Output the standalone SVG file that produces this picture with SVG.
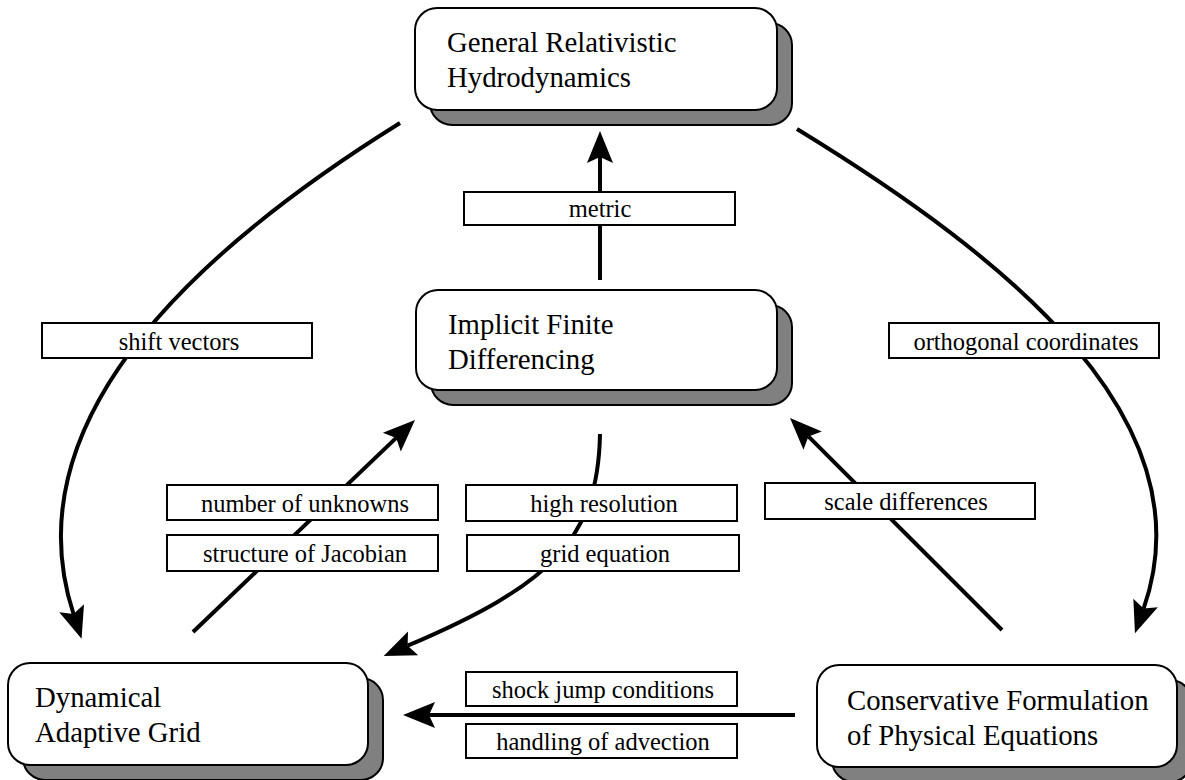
<svg xmlns="http://www.w3.org/2000/svg" width="1185" height="780" viewBox="0 0 1185 780">
<style>
.shadow{fill:#808080;stroke:#000;stroke-width:2}
.node{fill:#fff;stroke:#000;stroke-width:2}
.nt{font-family:"Liberation Serif","Times New Roman",serif;font-size:28.8px;fill:#000}
.lb{fill:#fff;stroke:#000;stroke-width:2}
.lt{font-family:"Liberation Serif","Times New Roman",serif;font-size:24.5px;fill:#000;text-anchor:middle}
.c{fill:none;stroke:#000;stroke-width:4}
</style>
<defs>
<marker id="ah" markerUnits="userSpaceOnUse" markerWidth="40" markerHeight="30" refX="6" refY="13" orient="auto" overflow="visible">
<path d="M0,0 L32,13 L0,26 L6,13 Z" fill="#000"/>
</marker>
</defs>
<rect width="1185" height="780" fill="#fff"/>
<g id="connectors">
<path class="c" d="M600,280 L600,157" marker-end="url(#ah)"/>
<path class="c" d="M400,123 C187.5,255.5 11.5,424 73.5,614" marker-end="url(#ah)"/>
<path class="c" d="M797,129 C1009.5,259 1209.6,420.6 1143.6,608.6" marker-end="url(#ah)"/>
<path class="c" d="M193,632 L396.2,437.9" marker-end="url(#ah)"/>
<path class="c" d="M600,434 C598,540 550,585 407.6,645.7" marker-end="url(#ah)"/>
<path class="c" d="M1002,630 L808.4,436.4" marker-end="url(#ah)"/>
<path class="c" d="M795,715 L429,715" marker-end="url(#ah)"/>
</g>
<g id="node-grh">
<rect class="shadow" x="430" y="23" width="362" height="102" rx="22"/>
<rect class="node" x="415" y="8" width="362" height="102" rx="22"/>
<text class="nt" x="447" y="52">General Relativistic</text>
<text class="nt" x="447" y="87">Hydrodynamics</text>
</g>
<g id="node-ifd">
<rect class="shadow" x="431" y="305" width="361" height="100" rx="22"/>
<rect class="node" x="416" y="290" width="361" height="100" rx="22"/>
<text class="nt" x="448" y="334">Implicit Finite</text>
<text class="nt" x="448" y="369">Differencing</text>
</g>
<g id="node-dag">
<rect class="shadow" x="23" y="678" width="360" height="102" rx="22"/>
<rect class="node" x="8" y="663" width="360" height="102" rx="22"/>
<text class="nt" x="35" y="707">Dynamical</text>
<text class="nt" x="35" y="742">Adaptive Grid</text>
</g>
<g id="node-cfpe">
<rect class="shadow" x="832" y="680" width="360" height="102" rx="22"/>
<rect class="node" x="817" y="665" width="360" height="102" rx="22"/>
<text class="nt" x="847" y="710">Conservative Formulation</text>
<text class="nt" x="847" y="745">of Physical Equations</text>
</g>
<g id="label-metric">
<rect class="lb" x="464" y="192" width="271" height="33"/>
<text class="lt" x="600" y="217">metric</text>
</g>
<g id="label-shift">
<rect class="lb" x="42" y="323" width="270" height="35"/>
<text class="lt" x="179" y="350">shift vectors</text>
</g>
<g id="label-orth">
<rect class="lb" x="889" y="323" width="270" height="35"/>
<text class="lt" x="1026" y="350">orthogonal coordinates</text>
</g>
<g id="label-unknowns">
<rect class="lb" x="167" y="485" width="271" height="35"/>
<text class="lt" x="305" y="512">number of unknowns</text>
</g>
<g id="label-jacobian">
<rect class="lb" x="167" y="535" width="271" height="36"/>
<text class="lt" x="305" y="562">structure of Jacobian</text>
</g>
<g id="label-highres">
<rect class="lb" x="466" y="485" width="271" height="36"/>
<text class="lt" x="604" y="512">high resolution</text>
</g>
<g id="label-grideq">
<rect class="lb" x="467" y="535" width="272" height="36"/>
<text class="lt" x="605" y="562">grid equation</text>
</g>
<g id="label-scale">
<rect class="lb" x="765" y="483" width="270" height="36"/>
<text class="lt" x="906" y="510">scale differences</text>
</g>
<g id="label-shock">
<rect class="lb" x="466" y="672" width="271" height="34"/>
<text class="lt" x="603" y="698">shock jump conditions</text>
</g>
<g id="label-advection">
<rect class="lb" x="466" y="724" width="271" height="34"/>
<text class="lt" x="603" y="750">handling of advection</text>
</g>
</svg>
